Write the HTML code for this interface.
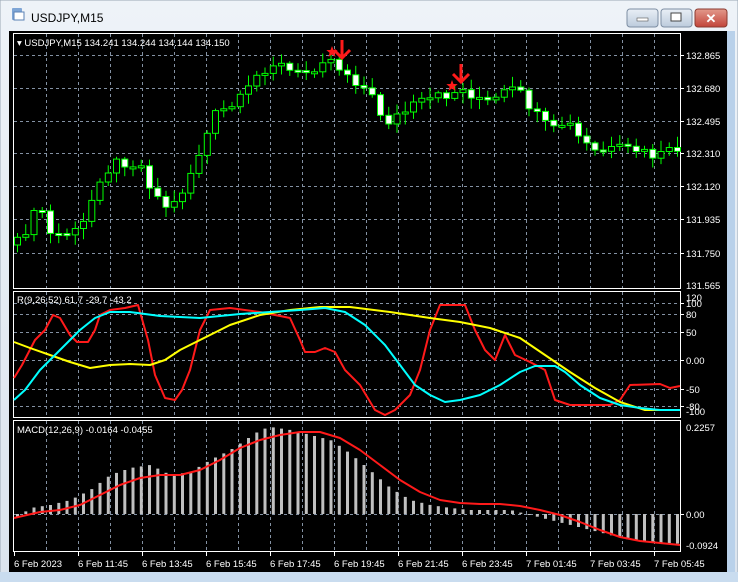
<!DOCTYPE html>
<html><head><meta charset="utf-8"><style>
html,body{margin:0;padding:0;width:738px;height:582px;overflow:hidden;background:#dfe7f0;font-family:"Liberation Sans",sans-serif}
</style></head><body>
<svg id="s" width="738" height="582" xmlns="http://www.w3.org/2000/svg" style="position:absolute;left:0;top:0">
<defs><linearGradient id="tb" x1="0" y1="0" x2="0" y2="1"><stop offset="0" stop-color="#eef3f8"/><stop offset="1" stop-color="#dbe4ee"/></linearGradient>
<linearGradient id="bt" x1="0" y1="0" x2="0" y2="1"><stop offset="0" stop-color="#e9eff6"/><stop offset="1" stop-color="#bccbdc"/></linearGradient>
<linearGradient id="rb" x1="0" y1="0" x2="0" y2="1"><stop offset="0" stop-color="#e39a8c"/><stop offset="1" stop-color="#c2443a"/></linearGradient></defs>
<rect x="0" y="0" width="738" height="582" fill="url(#tb)"/>
<rect x="0" y="0" width="738" height="582" fill="none" stroke="#9aa7b5"/>
<rect x="12" y="8" width="10" height="12" fill="#7fa6d6" rx="1"/><rect x="14" y="12" width="10" height="8" fill="#fff" stroke="#5b82b5"/>
<text x="31" y="22" font-size="12" fill="#000">USDJPY,M15</text>
<rect x="627" y="9" width="31" height="18" rx="3" fill="url(#bt)" stroke="#7d8ea3"/><rect x="637" y="18" width="11" height="3" fill="#fff" stroke="#555" stroke-width=".6"/>
<rect x="661" y="9" width="31" height="18" rx="3" fill="url(#bt)" stroke="#7d8ea3"/><rect x="671" y="13" width="10" height="8" fill="#fff" stroke="#444"/>
<rect x="695" y="9" width="32" height="18" rx="3" fill="url(#rb)" stroke="#8a3a30"/><text x="711" y="23" font-size="13" font-weight="bold" fill="#fff" text-anchor="middle">✕</text>
<rect x="9" y="31" width="719" height="541" fill="#000"/>
<rect x="727" y="31" width="8" height="541" fill="#b9d1ea"/>
<rect x="0" y="572" width="738" height="10" fill="#c9dcef"/>
<g id="gg"></g>
</svg>
<script>
var G=document.getElementById('gg'),NS='http://www.w3.org/2000/svg';
function el(t,a,txt){var e=document.createElementNS(NS,t);for(var k in a)e.setAttribute(k,String(a[k]));if(txt!=null)e.textContent=txt;G.appendChild(e);return e;}
var GRID='#8391a3',FS=9.5;
[[13,33,667,255],[13,291,667,126],[13,420,667,131]].forEach(function(r){el('rect',{x:r[0]+.5,y:r[1]+.5,width:r[2],height:r[3],fill:'none',stroke:'#fff'});});
for(var gx=46;gx<680;gx+=32){[[34,288],[292,417],[421,551]].forEach(function(p){el('line',{x1:gx+.5,y1:p[0],x2:gx+.5,y2:p[1],stroke:GRID,'stroke-dasharray':'3,3'});});}
function lab(y,t){el('text',{x:686,y:y,'font-size':FS,fill:'#fff'},t);}
function hl(y,t){el('line',{x1:14,y1:y+.5,x2:680,y2:y+.5,stroke:GRID,'stroke-dasharray':'3,3'});el('line',{x1:680,y1:y+.5,x2:684,y2:y+.5,stroke:'#fff'});lab(y+4,t);}
[[55,'132.865'],[88,'132.680'],[121,'132.495'],[153,'132.310'],[186,'132.120'],[219,'131.935'],[253,'131.750']].forEach(function(a){hl(a[0],a[1]);});
lab(289,'131.565');
[[303,'100'],[314,'80'],[332,'50'],[360,'0.00'],[389,'-50'],[406,'-80']].forEach(function(a){hl(a[0],a[1]);});
lab(301,'120');lab(415,'-100');
hl(514,'0.00');lab(431,'0.2257');lab(549,'-0.0924');
['6 Feb 2023','6 Feb 11:45','6 Feb 13:45','6 Feb 15:45','6 Feb 17:45','6 Feb 19:45','6 Feb 21:45','6 Feb 23:45','7 Feb 01:45','7 Feb 03:45','7 Feb 05:45'].forEach(function(t,i){var tx=i==0?14:14+64*i;el('line',{x1:tx+.5,y1:551,x2:tx+.5,y2:556,stroke:'#fff'});el('text',{x:tx,y:567,'font-size':FS,fill:'#fff'},t);});
function interp(pts,x){for(var j=1;j<pts.length;j++){if(x<=pts[j][0]){var a=pts[j-1],b=pts[j];return a[1]+(b[1]-a[1])*(x-a[0])/(b[0]-a[0]);}}return pts[pts.length-1][1];}
function poly(pts,col,w){el('polyline',{points:pts.map(function(p){return p[0]+','+p[1];}).join(' '),fill:'none',stroke:col,'stroke-width':w||2,'stroke-linejoin':'round'});}
var CL=[[0,245],[16,245],[40,205],[50,235],[80,232],[100,175],[120,160],[140,165],[155,195],[170,210],[185,185],[200,150],[215,115],[235,105],[245,95],[260,70],[275,62],[295,75],[310,70],[325,55],[340,68],[355,80],[370,95],[385,122],[400,115],[415,105],[430,100],[445,95],[460,90],[475,95],[490,105],[500,95],[515,90],[525,100],[540,122],[555,132],[565,120],[580,140],[595,152],[615,150],[635,150],[650,156],[665,155],[678,148],[700,148]];
function nz(n){var v=Math.sin(n*12.9898)*43758.5453;return v-Math.floor(v);}
var prevC=interp(CL,10);
for(var n=0;n<81;n++){var cx=17+8.25*n;if(cx>677)break;
 var cc=interp(CL,cx)+(nz(n)-0.5)*12;var oo=prevC;
 var tp=Math.min(oo,cc),bt=Math.max(oo,cc);if(bt-tp<2)bt=tp+2;
 var hi=tp-2-nz(n+100)*9,lo=bt+2+nz(n+200)*9;
 if(isFinite(hi)&&isFinite(lo)){
 el('line',{x1:cx+.5,y1:hi.toFixed(1),x2:cx+.5,y2:lo.toFixed(1),stroke:'#00ff00'});
 el('rect',{x:(cx-2.5).toFixed(1),y:tp.toFixed(1),width:6,height:(bt-tp).toFixed(1),fill:cc>oo?'#fff':'#000',stroke:'#00ff00'});}
 prevC=cc;}
function star(sx,sy){var p=[];for(var k=0;k<10;k++){var r=k%2?2.5:6,a=-Math.PI/2+k*Math.PI/5;p.push((sx+r*Math.cos(a)).toFixed(1)+','+(sy+r*Math.sin(a)).toFixed(1));}el('polygon',{points:p.join(' '),fill:'#ff1a1a'});}
function arrow(ax,y0){el('line',{x1:ax,y1:y0,x2:ax,y2:y0+18,stroke:'#ff1a1a','stroke-width':3});el('polyline',{points:(ax-8)+','+(y0+10)+' '+ax+','+(y0+18)+' '+(ax+8)+','+(y0+10),fill:'none',stroke:'#ff1a1a','stroke-width':3});}
star(332,52);arrow(342,40);star(452,86);arrow(461,64);
el('text',{x:17,y:46,'font-size':FS,fill:'#fff'},'▾ USDJPY,M15  134.241 134.244 134.144 134.150');
poly([[14,378],[22,365],[35,340],[45,330],[53,315],[60,318],[70,335],[77,342],[88,342],[95,330],[100,315],[110,310],[125,308],[138,305],[148,340],[155,375],[165,398],[175,400],[182,390],[190,370],[200,330],[210,310],[230,308],[260,312],[290,318],[300,340],[305,352],[315,352],[325,348],[335,352],[345,370],[360,385],[375,410],[385,415],[395,410],[410,395],[420,370],[430,330],[440,305],[465,305],[475,330],[485,350],[495,360],[505,335],[515,355],[530,362],[545,370],[555,400],[570,405],[610,405],[620,400],[630,385],[660,384],[670,388],[680,386]],'#ff1a1a');
poly([[14,342],[30,348],[50,355],[70,362],[90,368],[110,365],[130,364],[150,365],[165,360],[180,350],[200,340],[230,325],[260,315],[290,310],[320,307],[350,307],[390,312],[430,318],[460,322],[490,328],[520,338],[545,355],[570,372],[595,388],[620,402],[645,410],[680,410]],'#ffff00');
poly([[14,400],[25,390],[40,370],[60,350],[80,330],[95,318],[110,312],[130,312],[160,316],[200,318],[240,314],[270,312],[300,310],[325,308],[345,312],[365,325],[385,345],[400,365],[415,385],[430,395],[445,402],[460,400],[480,395],[500,385],[520,372],[535,366],[555,366],[565,372],[580,385],[600,398],[620,405],[640,408],[660,410],[680,410]],'#00ffff');
el('text',{x:17,y:303,'font-size':FS,fill:'#fff'},'R(9,26,52) 61.7 -29.7 -43.2');
var HB=[[0,518],[16,518],[30,508],[50,505],[70,500],[90,490],[110,475],[130,468],[150,465],[170,475],[190,472],[210,460],[230,450],[245,440],[260,430],[270,427],[290,430],[310,435],[330,440],[345,450],[360,462],[375,475],[390,488],[410,500],[430,505],[450,508],[470,510],[490,510],[510,510],[530,515],[550,520],[570,525],[590,530],[610,535],[630,540],[650,542],[700,545]];
for(var m=0;m<81;m++){var bx=17+8.25*m;if(bx>678)break;var t=interp(HB,bx);el('rect',{x:(bx-1).toFixed(1),y:Math.min(t,514).toFixed(1),width:3,height:Math.max(1,Math.abs(t-514)).toFixed(1),fill:'#c0c0c0'});}
poly([[14,518],[40,512],[60,510],[80,505],[100,495],[120,485],[140,478],[160,475],[180,475],[200,470],[220,460],[240,448],[260,440],[280,435],[300,432],[320,432],[340,438],[360,450],[380,465],[400,480],[420,492],[440,500],[460,503],[480,504],[500,504],[520,506],[540,510],[560,515],[580,522],[600,530],[620,537],[640,541],[660,543],[680,545]],'#ff1a1a');
el('text',{x:17,y:433,'font-size':FS,fill:'#fff'},'MACD(12,26,9) -0.0164 -0.0455');
</script>
</body></html>
